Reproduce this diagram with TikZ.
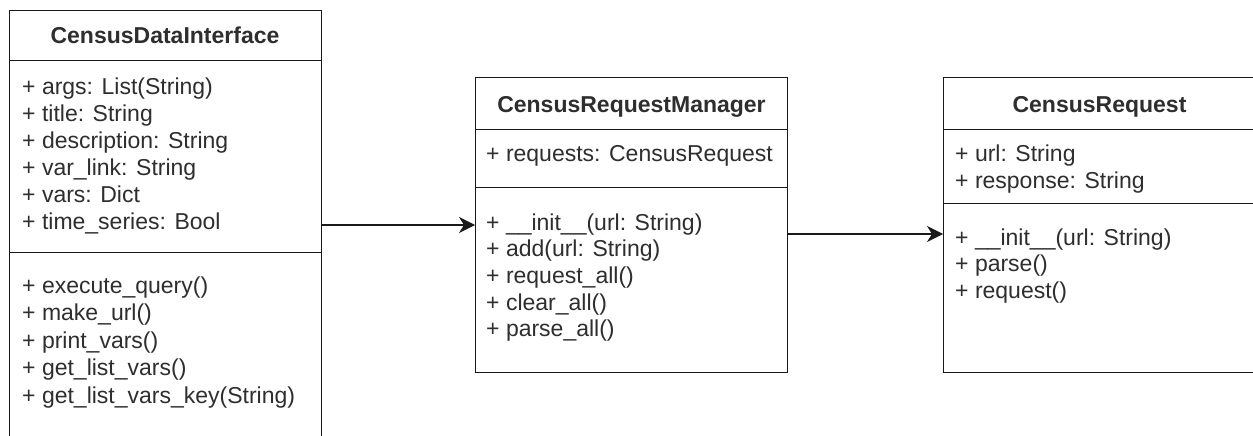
\documentclass[tikz,border=0pt]{standalone}
\usepackage{fontspec}
\setmainfont{Liberation Sans}
\usetikzlibrary{arrows.meta}
\begin{document}
\begin{tikzpicture}[x=1pt,y=-1pt,
  box/.style={draw=black!90, line width=1.3pt, anchor=north west, inner sep=0pt, minimum width=312pt},
  txt/.style={anchor=base west, inner sep=0pt, font=\fontsize{23}{27}\selectfont, text=black!82},
  ttl/.style={anchor=base, inner sep=0pt, font=\fontsize{23}{27}\selectfont\bfseries, text=black!82},
  conn/.style={draw=black!90, line width=1.3pt, -{Stealth[length=16pt,width=16pt,inset=5pt]}}]
\path[use as bounding box, clip] (0,0) rectangle (1253,436);
\fill[white] (0,0) rectangle (1253,436);

% CensusDataInterface
\node[box, minimum height=50pt] (cdiH) at (9,10) {};
\node[box, minimum height=192pt] (cdiA) at (9,60) {};
\node[box, minimum height=220pt] (cdiM) at (9,252) {};
\node[ttl] (cdiT) at (165,44) {CensusDataInterface};
\foreach \t [count=\i from 0] in {{+ args: List(String)},{+ title: String},{+ description: String},{+ var\_link: String},{+ vars: Dict},{+ time\_series: Bool}}
  \node[txt] (cdiA\i) at (22,94.3+27.1*\i) {\t};
\foreach \t [count=\i from 0] in {{+ execute\_query()},{+ make\_url()},{+ print\_vars()},{+ get\_list\_vars()},{+ get\_list\_vars\_key(String)}}
  \node[txt] (cdiM\i) at (22,293+27.5*\i) {\t};

% CensusRequestManager
\node[box, minimum height=52pt] (crmH) at (475,77) {};
\node[box, minimum height=58pt] (crmA) at (475,129) {};
\node[box, minimum height=185pt] (crmM) at (475,187) {};
\node[ttl] (crmT) at (631.5,112) {CensusRequestManager};
\node[txt] (crmA0) at (486,161.7) {+ requests: CensusRequest};
\foreach \t [count=\i from 0] in {{+ \_\_init\_\_(url: String)},{+ add(url: String)},{+ request\_all()},{+ clear\_all()},{+ parse\_all()}}
  \node[txt] (crmM\i) at (486,230+26.7*\i) {\t};

% CensusRequest
\node[box, minimum height=52pt, minimum width=313pt] (crH) at (943,77) {};
\node[box, minimum height=74pt, minimum width=313pt] (crA) at (943,129) {};
\node[box, minimum height=169pt, minimum width=313pt] (crM) at (943,203) {};
\node[ttl] (crT) at (1099.5,112) {CensusRequest};
\foreach \t [count=\i from 0] in {{+ url: String},{+ response: String}}
  \node[txt] (crA\i) at (955,161.7+26.7*\i) {\t};
\foreach \t [count=\i from 0] in {{+ \_\_init\_\_(url: String)},{+ parse()},{+ request()}}
  \node[txt] (crM\i) at (955,245+26.7*\i) {\t};

% connectors
\draw[conn] (cdiA.east |- 0,225) -- (crmM.west |- 0,225);
\draw[conn] (crmM.east |- 0,234) -- (crM.west |- 0,234);
\end{tikzpicture}
\end{document}
